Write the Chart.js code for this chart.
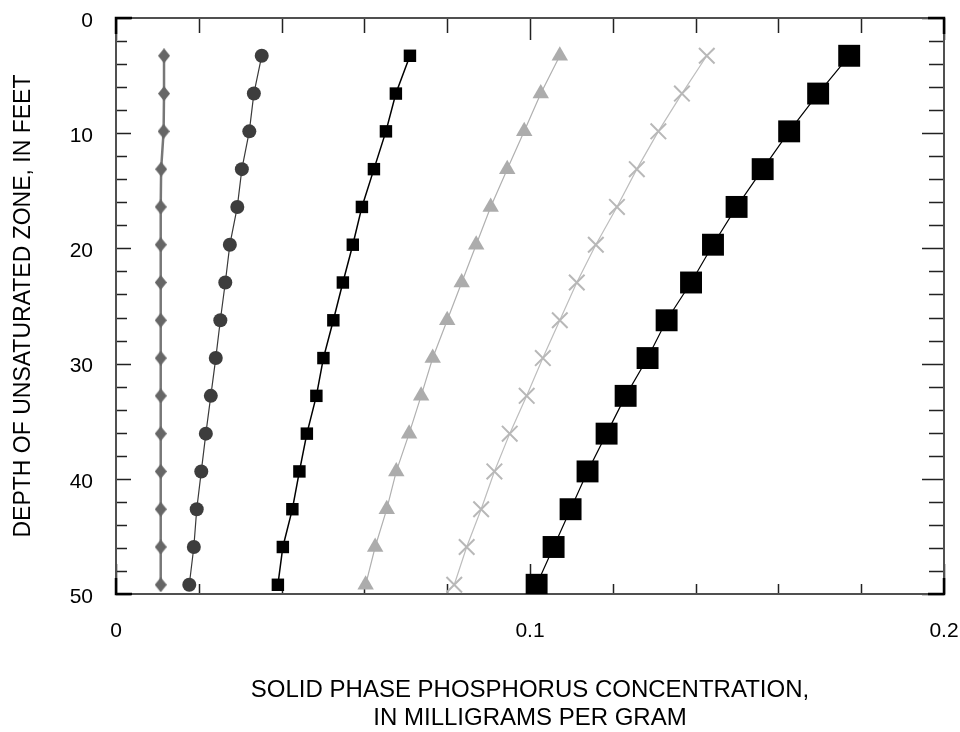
<!DOCTYPE html>
<html>
<head>
<meta charset="utf-8">
<script src="https://cdn.jsdelivr.net/npm/chart.js@4/dist/chart.umd.min.js"></script>
<style>
html,body{margin:0;padding:0;background:#fff;}
#wrap{width:960px;height:732px;position:relative;}
</style>
</head>
<body>
<div id="wrap"><canvas id="c" width="960" height="732"></canvas></div>
<script>
// Depths (feet) — 1 m to 15 m
const depthFeet = [3.28, 6.56, 9.84, 13.12, 16.4, 19.68, 22.96, 26.24, 29.52, 32.8, 36.08, 39.36, 42.64, 45.92, 49.2];

// Solid phase phosphorus concentration (mg/g) per profile
const seriesDiamond = [0.0116, 0.0116, 0.0115, 0.0109, 0.0108, 0.0108, 0.0108, 0.0108, 0.0108, 0.0108, 0.0108, 0.0108, 0.0108, 0.0108, 0.0108];
const seriesCircle = [0.0352, 0.0333, 0.0322, 0.0304, 0.0293, 0.0275, 0.0264, 0.0252, 0.0241, 0.0229, 0.0217, 0.0206, 0.0195, 0.0188, 0.0177];
const seriesSquare = [0.0710, 0.0676, 0.0652, 0.0623, 0.0594, 0.0572, 0.0548, 0.0525, 0.0501, 0.0484, 0.0461, 0.0443, 0.0426, 0.0403, 0.0391];
const seriesTriangle = [0.1072, 0.1026, 0.0986, 0.0945, 0.0905, 0.0870, 0.0835, 0.0800, 0.0765, 0.0737, 0.0708, 0.0677, 0.0654, 0.0626, 0.0603];
const seriesCross = [0.1427, 0.1367, 0.1310, 0.1258, 0.1210, 0.1159, 0.1113, 0.1072, 0.1031, 0.0992, 0.0951, 0.0914, 0.0882, 0.0847, 0.0817];
const seriesBigSquare = [0.1771, 0.1696, 0.1626, 0.1562, 0.1499, 0.1442, 0.1389, 0.1330, 0.1284, 0.1231, 0.1185, 0.1139, 0.1098, 0.1057, 0.1016];

const xTickValues = [0, 0.1, 0.2];
const yTickValues = [0, 10, 20, 30, 40, 50];
const xTitle = ["SOLID PHASE PHOSPHORUS CONCENTRATION,", "IN MILLIGRAMS PER GRAM"];
const yTitle = "DEPTH OF UNSATURATED ZONE, IN FEET";

function pts(vals){ return vals.map((v,i)=>({x:v, y:depthFeet[i]})); }

// custom elongated diamond marker
const diamond = document.createElement('canvas');
diamond.width = 12; diamond.height = 15;
(function(){
  const g = diamond.getContext('2d');
  g.fillStyle = '#666666';
  g.beginPath();
  g.moveTo(6,0); g.lineTo(12,7.5); g.lineTo(6,15); g.lineTo(0,7.5); g.closePath();
  g.fill();
})();

const FONT = "'Liberation Sans', Arial, Helvetica, sans-serif";

const frameTicks = {
  id: 'frameTicks',
  beforeDatasetsDraw(chart){
    const {ctx, chartArea:a, scales:{x, y}} = chart;
    ctx.save();
    ctx.strokeStyle = '#222';
    ctx.lineWidth = 1.5;
    ctx.beginPath();
    for (let i=0;i<=10;i++){
      const v = i*0.02;
      const px = Math.round(x.getPixelForValue(v))+0.5;
      const major = (i%5===0);
      ctx.moveTo(px, a.top); ctx.lineTo(px, a.top + (major?22:15));
      ctx.moveTo(px, a.bottom); ctx.lineTo(px, a.bottom - (major?30:10));
    }
    for (let d=0; d<=50; d+=2){
      const py = Math.round(y.getPixelForValue(d))+0.5;
      const major = (d%10===0);
      ctx.moveTo(a.left, py); ctx.lineTo(a.left + (major?15:11), py);
      ctx.moveTo(a.right, py); ctx.lineTo(a.right - (major?22:15), py);
    }
    ctx.stroke();
    ctx.strokeStyle = '#505050';
    ctx.lineWidth = 2;
    ctx.strokeRect(a.left, a.top, a.right-a.left, a.bottom-a.top);
    ctx.strokeStyle = '#000';
    ctx.lineWidth = 2.5;
    ctx.beginPath();
    const c = 16;
    ctx.moveTo(a.left, a.top+c); ctx.lineTo(a.left, a.top); ctx.lineTo(a.left+c, a.top);
    ctx.moveTo(a.right-c, a.top); ctx.lineTo(a.right, a.top); ctx.lineTo(a.right, a.top+c);
    ctx.moveTo(a.left, a.bottom-c); ctx.lineTo(a.left, a.bottom); ctx.lineTo(a.left+c, a.bottom);
    ctx.moveTo(a.right-c, a.bottom); ctx.lineTo(a.right, a.bottom); ctx.lineTo(a.right, a.bottom-c);
    ctx.stroke();
    ctx.restore();
  }
};

new Chart(document.getElementById('c'), {
  type: 'line',
  data: {
    datasets: [
      { data: pts(seriesDiamond), borderColor:'#777777', borderWidth:2.5, pointStyle: diamond, pointRadius:7, backgroundColor:'#666666' },
      { data: pts(seriesCircle), borderColor:'#3a3a3a', borderWidth:1.2, pointStyle:'circle', pointRadius:7, pointBackgroundColor:'#3d3d3d', pointBorderColor:'#3d3d3d', pointBorderWidth:0 },
      { data: pts(seriesSquare), borderColor:'#000000', borderWidth:1.5, pointStyle:'rect', pointRadius:8.8, pointBackgroundColor:'#000', pointBorderColor:'#000', pointBorderWidth:0 },
      { data: pts(seriesTriangle), borderColor:'#b0b0b0', borderWidth:1.2, pointStyle:'triangle', pointRadius:9.5, pointBackgroundColor:'#acacac', pointBorderColor:'#acacac', pointBorderWidth:0 },
      { data: pts(seriesCross), borderColor:'#bdbdbd', borderWidth:1.2, pointStyle:'crossRot', pointRadius:11, pointBorderColor:'#b8b8b8', pointBorderWidth:2 },
      { data: pts(seriesBigSquare), borderColor:'#000000', borderWidth:1.2, pointStyle:'rect', pointRadius:15.5, pointBackgroundColor:'#000', pointBorderColor:'#000', pointBorderWidth:0 }
    ]
  },
  options: {
    responsive:false,
    animation:false,
    layout:{ padding:{ top:18, right:16, left:0, bottom:0 } },
    plugins:{ legend:{display:false}, tooltip:{enabled:false} },
    elements:{ line:{ tension:0 } },
    scales:{
      x:{
        type:'linear', position:'bottom', min:0, max:0.2,
        afterFit(s){ s.height = 138; s.paddingLeft = 0; s.paddingRight = 0; },
        afterBuildTicks(s){ s.ticks = xTickValues.map(v=>({value:v})); },
        grid:{ display:false, drawTicks:false },
        border:{ display:false },
        ticks:{ color:'#000', padding:25, font:{ family:FONT, size:21 }, maxRotation:0,
          callback:(v)=> (v===0?'0':String(Math.round(v*10)/10)) },
        title:{ display:true, text:xTitle, color:'#000', font:{ family:FONT, size:24, lineHeight:1.15 }, padding:{top:0,bottom:0} }
      },
      y:{
        type:'linear', reverse:true, min:0, max:50,
        afterFit(s){ s.width = 116; s.paddingTop = 0; s.paddingBottom = 0; },
        afterBuildTicks(s){ s.ticks = yTickValues.map(v=>({value:v})); },
        grid:{ display:false, drawTicks:false },
        border:{ display:false },
        ticks:{ color:'#000', padding:23, labelOffset:3, font:{ family:FONT, size:21 } },
        title:{ display:true, text:yTitle, color:'#000', font:{ family:FONT, size:23, lineHeight:1.2 }, padding:{top:10,bottom:0} }
      }
    }
  },
  plugins:[frameTicks]
});
</script>
</body>
</html>
